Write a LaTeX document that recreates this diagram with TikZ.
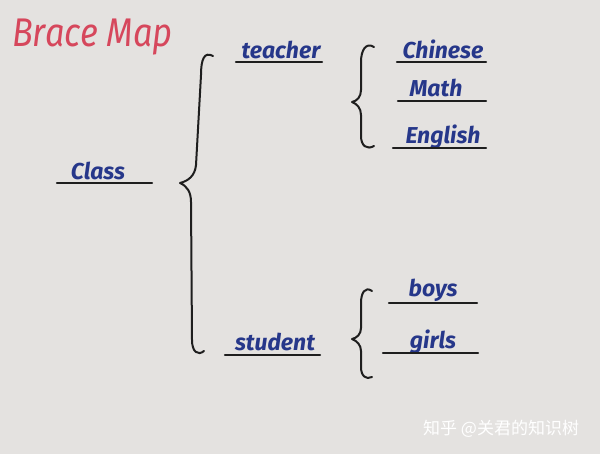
\documentclass[tikz,border=0pt]{standalone}
\usepackage{fontspec}
\usepackage{graphicx}
\setmainfont{Fira Sans}
\newfontfamily\cjk{Noto Sans CJK SC}
\definecolor{paper}{HTML}{E4E2E0}
\definecolor{ink}{HTML}{26378A}
\definecolor{redink}{HTML}{D6475C}
\definecolor{pen}{HTML}{1E1E1E}
\tikzset{
  word/.style={inner sep=0pt, anchor=base, text=ink, font=\bfseries\itshape\fontsize{23}{23}\selectfont},
  uline/.style={draw=pen, line width=2.4pt, line cap=round},
  bracepath/.style={draw=pen, line width=2pt, line cap=round, line join=round},
}
\begin{document}
\begin{tikzpicture}[x=1pt,y=-1pt]
\fill[paper] (0,0) rectangle (600,454);
\useasboundingbox (0,0) rectangle (600,454);

% title
\node[inner sep=0pt, anchor=base west, text=redink, font=\itshape\fontsize{40}{40}\selectfont] (title) at (12,47) {\scalebox{0.86}[1]{Brace Map}};

% words
\node[word] (class) at (98,180) {Class};
\node[word] (teacher) at (281,59) {teacher};
\node[word] (student) at (275,351) {student};
\node[word] (chinese) at (443,59) {Chinese};
\node[word] (math) at (436,97) {Math};
\node[word] (english) at (443,144) {English};
\node[word] (boys) at (433,297) {boys};
\node[word] (girls) at (433,349) {girls};

% underlines
\coordinate (c1) at (57,183);  \coordinate (c2) at (152,183);
\coordinate (t1) at (236,62);  \coordinate (t2) at (322,62);
\coordinate (s1) at (225,355); \coordinate (s2) at (320,355);
\coordinate (h1) at (397,62);  \coordinate (h2) at (486,62);
\coordinate (m1) at (398,101); \coordinate (m2) at (486,101);
\coordinate (e1) at (393,148); \coordinate (e2) at (486,148);
\coordinate (b1) at (389,303); \coordinate (b2) at (477,303);
\coordinate (g1) at (383,353); \coordinate (g2) at (478,353);
\draw[uline] (c1) -- (c2);
\draw[uline] (t1) -- (t2);
\draw[uline] (s1) -- (s2);
\draw[uline] (h1) -- (h2);
\draw[uline] (m1) -- (m2);
\draw[uline] (e1) -- (e2);
\draw[uline] (b1) -- (b2);
\draw[uline] (g1) -- (g2);

% big brace
\coordinate (bigtop) at (213,56);
\coordinate (bigtip) at (180,183);
\coordinate (bigbot) at (204,351);
\draw[bracepath] (bigtop) .. controls (204,51) and (201,60) .. (201,75)
  -- (196,165) .. controls (195,176) and (188,181) .. (bigtip)
  .. controls (187,186) and (191,192) .. (191,202)
  -- (192,340) .. controls (192,352) and (198,356) .. (bigbot);

% small brace 1
\coordinate (s1top) at (374,47);
\coordinate (s1tip) at (352,102);
\coordinate (s1bot) at (374,146);
\draw[bracepath] (s1top) .. controls (366,42) and (361,50) .. (361,62)
  -- (361,90) .. controls (361,97) and (357,101) .. (s1tip)
  .. controls (357,104) and (361,108) .. (361,115)
  -- (361,136) .. controls (361,146) and (367,150) .. (s1bot);

% small brace 2
\coordinate (s2top) at (372,291);
\coordinate (s2tip) at (352,339);
\coordinate (s2bot) at (372,377);
\draw[bracepath] (s2top) .. controls (365,286) and (361,293) .. (361,303)
  -- (361,328) .. controls (361,334) and (357,338) .. (s2tip)
  .. controls (357,341) and (361,345) .. (361,351)
  -- (361,367) .. controls (361,376) and (366,380) .. (s2bot);

% watermark
\node[inner sep=0pt, anchor=base west, text=white, font=\cjk\fontsize{17}{17}\selectfont] (mark) at (423,435) {知乎 @关君的知识树};
\end{tikzpicture}
\end{document}
